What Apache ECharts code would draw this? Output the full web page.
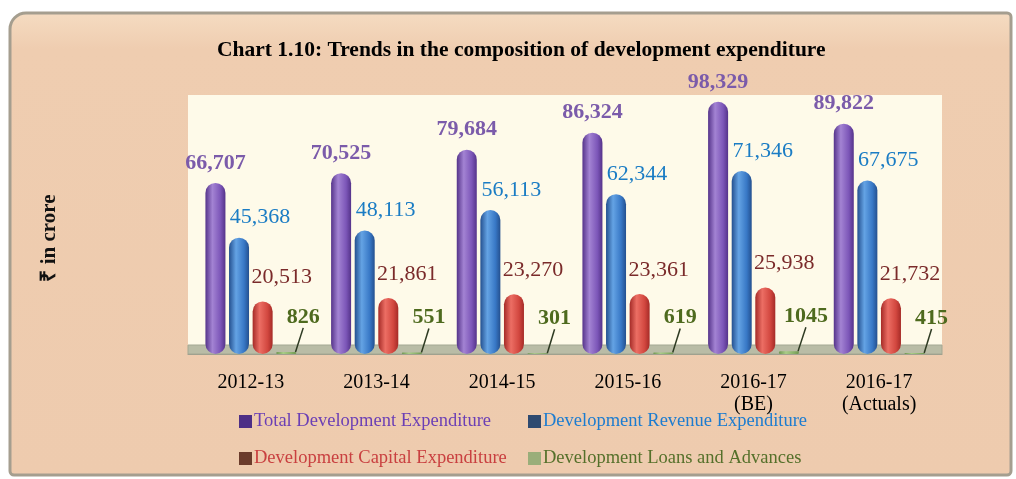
<!DOCTYPE html>
<html>
<head>
<meta charset="utf-8">
<script src="https://cdn.jsdelivr.net/npm/echarts@6/dist/echarts.min.js"></script>
<style>
  html, body { margin: 0; padding: 0; background: #fff; }
  #chart { width: 1016px; height: 479px; }
</style>
</head>
<body>
<div id="chart"></div>
<script>
const years = ['2012-13', '2013-14', '2014-15', '2015-16', '2016-17\n(BE)', '2016-17\n(Actuals)'];
const totalDev = [66707, 70525, 79684, 86324, 98329, 89822];
const revenueDev = [45368, 48113, 56113, 62344, 71346, 67675];
const capitalDev = [20513, 21861, 23270, 23361, 25938, 21732];
const loansDev = [826, 551, 301, 619, 1045, 415];

const serif = '"Liberation Serif", "Times New Roman", serif';

function cyl(edge, light, mid) {
    return new echarts.graphic.LinearGradient(0, 0, 1, 0, [
        {offset: 0, color: edge},
        {offset: 0.35, color: light},
        {offset: 0.75, color: mid},
        {offset: 1, color: edge}
    ]);
}

const chart = echarts.init(document.getElementById('chart'));

const fmt = (p) => p.value.toLocaleString('en-US');

function legendItem(name, icon, textColor, left, top) {
    return {
        data: [{name: name, itemStyle: {color: icon}}],
        left: left, top: top,
        itemWidth: 13, itemHeight: 13, icon: 'rect',
        textStyle: {fontFamily: serif, fontSize: 18.5, color: textColor, padding: [0, 0, 0, -3]}
    };
}

const option = {
    animation: false,
    graphic: [
        {
            type: 'rect', z: -10,
            shape: {x: 10, y: 13, width: 1001, height: 462, r: [16, 4, 4, 4]},
            style: {
                fill: new echarts.graphic.LinearGradient(0, 0, 0, 1, [
                    {offset: 0, color: '#F5DCC2'},
                    {offset: 0.08, color: '#EFCDB0'},
                    {offset: 1, color: '#EECBAE'}
                ]),
                stroke: '#A59E8F', lineWidth: 3
            }
        },
        {
            type: 'rect', z: 1,
            shape: {x: 188, y: 345, width: 754, height: 9},
            style: {fill: '#B9BCA6', stroke: '#A4A893', lineWidth: 1}
        },
        {
            type: 'text', z: 5,
            x: 50, y: 238, rotation: Math.PI / 2,
            style: {
                text: '₹ in crore',
                font: 'bold 21px ' + serif,
                fill: '#111',
                align: 'center', verticalAlign: 'middle'
            }
        }
    ],
    title: {
        text: 'Chart 1.10: Trends in the composition of development expenditure',
        left: 212, top: 34,
        textStyle: {fontFamily: serif, fontWeight: 'bold', fontSize: 21.5, color: '#000'}
    },
    legend: [
        legendItem('Total Development Expenditure', '#4E2F86', '#6B3FB5', 234, 407),
        legendItem('Development Revenue Expenditure', '#2E4A70', '#1C7CD0', 523, 407),
        legendItem('Development Capital Expenditure', '#6B3B2B', '#C94040', 234, 444),
        legendItem('Development Loans and Advances', '#9AAE7A', '#55702A', 523, 444)
    ],
    grid: {
        left: 188, right: 74, top: 95, bottom: 125,
        show: true, backgroundColor: '#FEFAE9', borderWidth: 0
    },
    xAxis: {
        type: 'category',
        data: years,
        axisLine: {lineStyle: {color: '#9A9A8A', width: 1}},
        axisTick: {length: 7, lineStyle: {color: '#9A9A8A'}},
        axisLabel: {fontFamily: serif, fontSize: 20, color: '#000', margin: 18, lineHeight: 22}
    },
    yAxis: {
        type: 'value', min: 0, max: 101000,
        show: false,
        splitLine: {show: false}
    },
    series: [
        {
            name: 'Total Development Expenditure', type: 'bar', data: totalDev,
            barWidth: 20, barGap: '18%',
            itemStyle: {color: cyl('#55338A', '#A383D3', '#7C56B8'), borderRadius: 10},
            label: {show: true, position: 'top', distance: 9, formatter: fmt,
                fontFamily: serif, fontWeight: 'bold', fontSize: 22, color: '#7B5BAA'}
        },
        {
            name: 'Development Revenue Expenditure', type: 'bar', data: revenueDev,
            barWidth: 20, barGap: '18%',
            itemStyle: {color: cyl('#24508F', '#64A3E4', '#3878C6'), borderRadius: 10},
            label: {show: true, position: 'top', distance: 9, offset: [21, 0], formatter: fmt,
                fontFamily: serif, fontSize: 22, color: '#1A7CC4'}
        },
        {
            name: 'Development Capital Expenditure', type: 'bar', data: capitalDev,
            barWidth: 20, barGap: '18%',
            itemStyle: {color: cyl('#A52B27', '#EC6E64', '#D2473F'), borderRadius: 10},
            label: {show: true, position: 'top', distance: 9, offset: [19, -4], formatter: fmt,
                fontFamily: serif, fontSize: 22, color: '#7A2A2A'}
        },
        {
            name: 'Development Loans and Advances', type: 'bar', data: loansDev,
            barWidth: 20, barGap: '18%',
            itemStyle: {color: cyl('#6E9650', '#A9CC88', '#88B068'), borderRadius: 3},
            label: {show: true, position: 'top', distance: 2, formatter: (p) => String(p.value),
                fontFamily: serif, fontWeight: 'bold', fontSize: 22, color: '#4E6A1E'},
            labelLayout: {dx: 17, dy: -22},
            labelLine: {show: true, length2: 0, lineStyle: {color: '#2E3A22', width: 1.5}}
        }
    ]
};

chart.setOption(option);
</script>
</body>
</html>
